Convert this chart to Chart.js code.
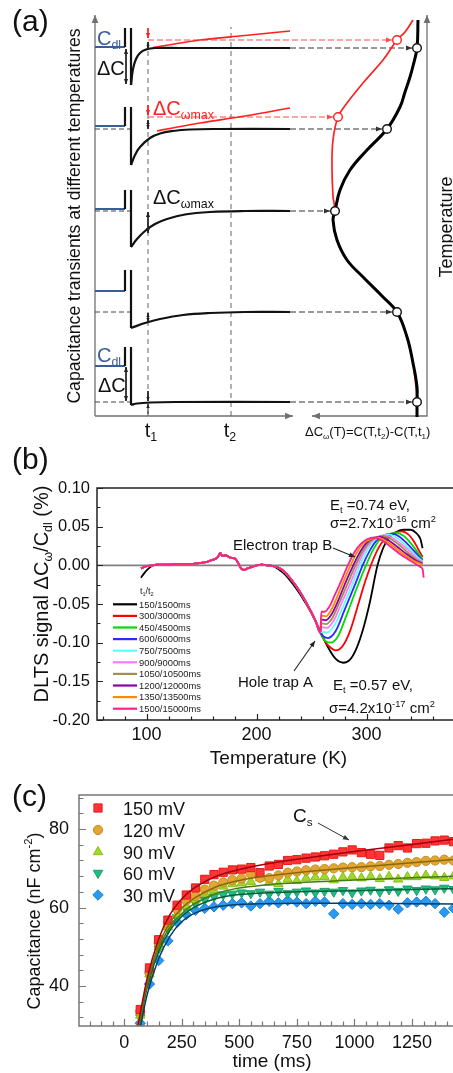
<!DOCTYPE html>
<html>
<head>
<meta charset="utf-8">
<title>DLTS figure</title>
<script src="https://cdn.jsdelivr.net/npm/chart.js@4.4.1/dist/chart.umd.min.js"></script>
<style>
  html, body { margin: 0; padding: 0; background: #fff; overflow: hidden; }
  .panel { position: absolute; left: 0; }
</style>
</head>
<body>
<div class="panel" style="top:0;width:453px;height:445px"><canvas id="panelA"></canvas></div>
<div class="panel" style="top:445px;width:480px;height:325px"><canvas id="panelB"></canvas></div>
<div class="panel" style="top:770px;width:480px;height:303px"><canvas id="panelC"></canvas></div>
<script>
const FONT = "'Liberation Sans', Arial, Helvetica, sans-serif";
const BLUE = '#3a5d9a';
const RED = '#ff2020';

// ---- (a) schematic: x = time (a.u.), y = temperature (a.u.) ----
const cdlLevel = [369, 290, 207, 125, 50];
const pulseTop = [388, 309, 226, 146, 69];
const steadyLevel = [368, 287, 205, 104, 14];
const transients = [
  [[36,331],[38,347],[41,357],[45,363],[51,366.5],[60,368],[85,368],[195,368]],
  [[36,251],[40,261],[45,269],[55,278],[65,282.5],[78,285],[95,286.5],[120,287],[195,287]],
  [[36,169],[42,177],[50,185],[60,192],[72,197],[90,201.5],[115,204],[150,205],[195,205]],
  [[36,88],[50,93],[65,97],[88,101],[115,103],[150,104],[195,104]],
  [[36,11],[42,12.5],[55,13.5],[80,14],[195,14]]
];
const redTransients = [
  [[58,368.5],[70,370.5],[105,376],[150,380.5],[195,385]],
  [[62,285],[80,288.5],[105,293],[150,300],[195,308]]
];
const signalBlack = [[323,396],[322,368],[318,350],[315,339],[310,324],[305,309],[292,287],[272,266],[255,246],[245,226],[240,205],[238,196],[242,176],[252,156],[268,139],[288,119],[302,104],[312,79],[318,53],[322,29],[322,14],[322,-1]];
const signalRed = [[318,396],[310,384],[302,376],[288,356],[268,333],[252,313],[243,299],[238,276],[237,249],[238,220],[240,205],[238,196],[242,176],[252,156],[268,139],[288,119],[302,104],[312,79],[318,53],[321,29],[322,14]];
const readBlack = [[322,368],[292,287],[240,205],[302,104],[322,14]];
const readRed = [[302,376],[243,299]];
const gateTimes = [53, 136];
const transientEnd = 195;

// ---- (b) DLTS spectra ----
const dltsLabels = ['150/1500ms','300/3000ms','450/4500ms','600/6000ms','750/7500ms','900/9000ms','1050/10500ms','1200/12000ms','1350/13500ms','1500/15000ms'];
const dltsColors = ['#000000','#ff0000','#00dd00','#2a2aff','#5cffff','#ff7aff','#a09050','#8a00aa','#ff8a00','#ff1f8f'];
const baseT = [106,110,120,130,140,148,154,158,162,165,167,169,172,176,180,183,186,189,192,196,200,205,210,215];
const baseV = [0.000,0.001,0.001,0.002,0.002,0.003,0.004,0.006,0.008,0.011,0.016,0.012,0.013,0.010,0.009,0.004,-0.004,-0.006,-0.004,-0.002,0.000,0.001,0.000,-0.001];
const headColor = [[95,-0.004],[100,-0.001]];
const headBlack = [[95,-0.016],[98,-0.010],[102,-0.004]];
const descent = [[220,-0.003],[226,-0.009],[232,-0.019],[238,-0.031],[244,-0.045],[250,-0.061],[254,-0.073],[258,-0.087]];
const tailBlack = [[220,-0.005],[226,-0.012],[232,-0.022],[240,-0.038],[250,-0.062],[258,-0.085],[265,-0.106],[272,-0.121],[279,-0.126],[285,-0.122],[291,-0.107],[297,-0.082],[303,-0.048],[310,0],[315,0.022],[320,0.035],[327,0.043],[334,0.046],[340,0.046],[345,0.042],[349,0.034],[351,0.022]];
const tailRed = [[262,-0.098],[267,-0.106],[272,-0.110],[278,-0.105],[285,-0.085],[293,-0.048],[299,-0.020],[304,0],[310,0.020],[317,0.035],[325,0.042],[332,0.044],[338,0.040],[343,0.031],[347,0.021],[351,0.011]];
const tailGreen = [[262,-0.097],[267,-0.100],[274,-0.092],[282,-0.064],[291,-0.030],[299.5,0],[306,0.020],[312,0.033],[320,0.040],[327,0.042],[334,0.038],[340,0.029],[345,0.020],[349,0.012],[351,0.008]];
const tailBlue = [[261,-0.092],[265,-0.094],[272,-0.085],[280,-0.058],[289,-0.027],[296.5,0],[303,0.019],[309,0.032],[316,0.039],[323,0.041],[330,0.037],[337,0.028],[343,0.019],[348,0.011],[351,0.006]];
const tailCyan = [[259,-0.086],[264,-0.087],[271,-0.077],[279,-0.052],[287,-0.025],[294,0],[300,0.018],[306,0.031],[313,0.038],[320,0.040],[327,0.036],[334,0.028],[341,0.018],[347,0.010],[351,0.005]];
const tailMagenta = [[259,-0.080],[264,-0.081],[270,-0.072],[277,-0.050],[285,-0.024],[292,0],[298,0.018],[304,0.030],[311,0.037],[317,0.039],[324,0.035],[332,0.027],[340,0.017],[346,0.009],[351,0.004]];
const tailOlive = [[259,-0.075],[263,-0.076],[269,-0.068],[276,-0.046],[283,-0.023],[290,0],[296,0.017],[302,0.029],[309,0.036],[315,0.038],[322,0.034],[330,0.026],[338,0.016],[345,0.008],[351,0.003]];
const tailPurple = [[259,-0.070],[263,-0.071],[268,-0.064],[275,-0.043],[281,-0.022],[288,0],[294,0.017],[300,0.029],[306,0.035],[312,0.037],[319,0.033],[327,0.025],[336,0.015],[344,0.007],[351,0.002]];
const tailOrange = [[259,-0.065],[263,-0.066],[267,-0.060],[273,-0.042],[279,-0.021],[285.5,0],[291,0.016],[297,0.028],[304,0.034],[310,0.036],[317,0.032],[325,0.024],[334,0.014],[343,0.006],[351,0.001]];
const tailPink = [[259,-0.060],[262,-0.060],[266,-0.054],[271,-0.039],[277,-0.020],[283,0],[289,0.017],[295,0.028],[301,0.034],[307,0.036],[314,0.032],[322,0.024],[331,0.014],[341,0.005],[349,-0.002],[351,-0.005],[352,-0.016]];
const tailsColor = [tailRed, tailGreen, tailBlue, tailCyan, tailMagenta, tailOlive, tailPurple, tailOrange, tailPink];

// ---- (c) capacitance transients ----
const voltLabels = ['150 mV','120 mV','90 mV','60 mV','30 mV'];
const timeMs = [70,110,150,190,230,270,310,350,390,430,470,510,550,590,630,670,710,750,790,830,870,910,950,990,1030,1070,1110,1150,1190,1230,1270,1310,1350,1390,1430];
const cap150 = [34.0,44.6,51.8,56.8,60.6,63.2,65.0,67.2,68.4,69.0,69.6,69.8,70.2,68.9,70.6,71.0,72.0,72.2,72.6,72.9,73.2,73.6,74.2,74.7,74.0,73.6,73.3,75.2,75.8,75.2,76.3,76.4,77.0,77.2,76.8];
const cap120 = [33.5,43.5,51.0,56.0,59.6,61.8,62.9,64.6,65.6,66.4,67.0,67.4,68.6,67.6,67.5,68.2,68.9,69.2,69.5,69.7,69.8,70.0,70.2,70.3,70.3,70.5,70.6,70.9,71.1,71.4,71.6,71.9,72.0,72.2,72.0];
const cap90 = [32.5,43.0,50.0,55.0,58.3,60.4,62.0,63.6,64.5,65.4,66.0,66.2,66.6,67.5,66.4,66.0,67.2,66.8,67.5,67.7,67.8,67.0,67.7,67.9,67.5,67.9,67.3,67.9,67.2,67.8,67.8,68.2,68.0,67.6,68.0];
const cap60 = [32.0,42.5,49.5,54.5,57.5,59.5,61.0,62.0,62.8,63.3,63.5,63.8,63.6,64.0,63.5,64.2,63.6,64.0,64.3,63.8,64.2,64.0,64.4,63.8,64.3,64.5,64.0,64.6,64.2,64.8,64.4,64.8,64.6,65.0,64.7];
const cap30 = [30.5,40.5,46.5,51.5,56.3,58.2,59.3,59.8,60.2,60.6,61.0,61.2,60.4,61.0,61.6,61.2,61.8,61.4,61.0,61.6,61.4,58.4,61.0,60.8,61.0,60.8,61.0,60.6,59.6,61.2,61.4,61.6,61.0,58.8,59.8];
const fitT = [60,100,150,200,250,300,400,500,600,750,1000,1250,1480];
const fit150 = [30.0,42.0,52.0,58.3,62.2,64.8,68.0,69.7,70.9,72.3,74.3,76.1,77.8];
const fit120 = [29.0,40.8,50.5,56.2,59.8,62.2,65.3,66.9,67.9,68.9,70.2,71.4,72.5];
const fit90 = [28.5,40.3,49.6,55.1,58.5,60.8,63.6,65.0,65.7,66.3,67.0,67.6,68.1];
const fit60 = [28.0,39.6,48.8,54.3,57.7,59.9,62.3,63.3,63.7,64.0,64.3,64.6,64.9];
const fit30 = [26.5,37.8,47.0,52.8,56.4,58.4,60.2,60.8,61.0,61.1,61.1,61.0,60.9];

// ---------- helpers ----------
function zip(xs, ys) { return xs.map((v, i) => [v, ys[i]]); }
function isMult(v, m) { return Math.abs(v / m - Math.round(v / m)) < 1e-6; }

function parseRich(str) {
  const out = [];
  const re = /([_^])\{([^}]*)\}/g;
  let last = 0, m;
  while ((m = re.exec(str))) {
    if (m.index > last) out.push([str.slice(last, m.index), '']);
    out.push([m[2], m[1] === '_' ? 'sub' : 'sup']);
    last = re.lastIndex;
  }
  if (last < str.length) out.push([str.slice(last), '']);
  return out;
}

function rich(ctx, str, x, y, size, color, align) {
  const segs = parseRich(str).map(([t, k]) => {
    const s = k ? size * 0.62 : size;
    ctx.font = s + 'px ' + FONT;
    return { t: t, k: k, s: s, w: ctx.measureText(t).width };
  });
  const total = segs.reduce((a, g) => a + g.w, 0);
  let cx = align === 'center' ? x - total / 2 : (align === 'right' ? x - total : x);
  ctx.save();
  ctx.fillStyle = color;
  ctx.textAlign = 'left';
  ctx.textBaseline = 'alphabetic';
  segs.forEach(g => {
    ctx.font = g.s + 'px ' + FONT;
    const dy = g.k === 'sub' ? size * 0.22 : (g.k === 'sup' ? -size * 0.42 : 0);
    ctx.fillText(g.t, cx, y + dy);
    cx += g.w;
  });
  ctx.restore();
}

function rotated(ctx, str, x, y, size, color) {
  ctx.save();
  ctx.translate(x, y);
  ctx.rotate(-Math.PI / 2);
  rich(ctx, str, 0, 0, size, color, 'center');
  ctx.restore();
}

function arrowHead(ctx, from, to, color, size) {
  const ang = Math.atan2(to.y - from.y, to.x - from.x);
  const w = size * 0.42;
  ctx.save();
  ctx.fillStyle = color;
  ctx.beginPath();
  ctx.moveTo(to.x, to.y);
  ctx.lineTo(to.x - size * Math.cos(ang) + w * Math.sin(ang), to.y - size * Math.sin(ang) - w * Math.cos(ang));
  ctx.lineTo(to.x - size * Math.cos(ang) - w * Math.sin(ang), to.y - size * Math.sin(ang) + w * Math.cos(ang));
  ctx.closePath();
  ctx.fill();
  ctx.restore();
}

function arrowLine(ctx, x1, y1, x2, y2, color, width, size) {
  ctx.save();
  ctx.strokeStyle = color;
  ctx.lineWidth = width;
  ctx.beginPath();
  ctx.moveTo(x1, y1);
  ctx.lineTo(x2, y2);
  ctx.stroke();
  ctx.restore();
  arrowHead(ctx, { x: x1, y: y1 }, { x: x2, y: y2 }, color, size);
}

// draws arrow heads at ends of datasets flagged with `arrow`
const arrowsPlugin = {
  id: 'arrowHeads',
  afterDatasetsDraw(chart) {
    const ctx = chart.ctx;
    chart.data.datasets.forEach((ds, i) => {
      if (!ds.arrow) return;
      const pts = chart.getDatasetMeta(i).data;
      const n = pts.length;
      const size = ds.arrowSize || 7;
      if (ds.arrow !== 'start') arrowHead(ctx, pts[n - 2], pts[n - 1], ds.borderColor, size);
      if (ds.arrow !== 'end') arrowHead(ctx, pts[1], pts[0], ds.borderColor, size);
    });
  }
};

// inward tick marks, majors longer
function innerTicks(chart, xMajor, yMajor, color, majLen, minLen) {
  const { ctx, chartArea: a, scales } = chart;
  ctx.save();
  ctx.strokeStyle = color;
  ctx.lineWidth = 1.2;
  ctx.beginPath();
  scales.x.ticks.forEach(t => {
    const px = Math.round(scales.x.getPixelForValue(t.value)) + 0.5;
    const len = isMult(t.value, xMajor) ? majLen : minLen;
    ctx.moveTo(px, a.bottom);
    ctx.lineTo(px, a.bottom - len);
  });
  scales.y.ticks.forEach(t => {
    const py = Math.round(scales.y.getPixelForValue(t.value)) + 0.5;
    const len = isMult(t.value, yMajor) ? majLen : minLen;
    ctx.moveTo(a.left, py);
    ctx.lineTo(a.left + len, py);
  });
  ctx.stroke();
  ctx.restore();
}

const baseOptions = {
  animation: false,
  responsive: true,
  maintainAspectRatio: false,
  events: [],
  plugins: { legend: { display: false }, tooltip: { enabled: false } }
};

// ---------- panel (a) ----------
const dsA = [];
function lineA(points, color, width, extra) {
  dsA.push(Object.assign({
    data: points, borderColor: color, backgroundColor: color, borderWidth: width,
    showLine: true, pointRadius: 0, tension: 0, clip: false
  }, extra || {}));
}
const GRAY = '#707070';
lineA([[0, 0], [0, 401]], GRAY, 1.3, { arrow: 'end', arrowSize: 8 });
lineA([[0, 0], [198, 0]], GRAY, 1.3, { arrow: 'end', arrowSize: 8 });
lineA([[217, 0], [332, 0], [332, 401]], GRAY, 1.3, { arrow: 'both', arrowSize: 8 });
lineA([[gateTimes[0], 0], [gateTimes[0], 386]], '#666', 1, { borderDash: [5, 4] });
lineA([[gateTimes[1], 0], [gateTimes[1], 389]], '#666', 1, { borderDash: [5, 4] });
for (let k = 1; k < 5; k++) lineA([[0, steadyLevel[k]], [36, steadyLevel[k]]], '#444', 1, { borderDash: [5, 3] });
const readX = [317, 287, 235, 297, 317];
for (let k = 0; k < 5; k++) lineA([[transientEnd, steadyLevel[k]], [readX[k], steadyLevel[k]]], '#333', 1, { borderDash: [6, 3], arrow: 'end', arrowSize: 6 });
lineA([[gateTimes[0], readRed[0][1]], [readRed[0][0] - 5, readRed[0][1]]], '#ff4848', 1, { borderDash: [6, 3], arrow: 'end', arrowSize: 6 });
lineA([[gateTimes[0], readRed[1][1]], [readRed[1][0] - 5, readRed[1][1]]], '#ff4848', 1, { borderDash: [6, 3], arrow: 'end', arrowSize: 6 });
redTransients.forEach(r => lineA(r, RED, 1.7, { tension: 0.4 }));
for (let k = 0; k < 5; k++) {
  lineA([[0, cdlLevel[k]], [30, cdlLevel[k]]], BLUE, 2);
  lineA([[30, cdlLevel[k]], [30, pulseTop[k]]], '#111', 2.2);
  lineA([[36, pulseTop[k]], transients[k][0]], '#111', 2.2);
  lineA(transients[k], '#111', 2.2, { tension: 0.4 });
}
// small gauge arrows at t1 and the ΔC arrows
lineA([[53, 388], [53, 378]], RED, 1, { arrow: 'end', arrowSize: 5 });
lineA([[53, 311], [53, 301]], RED, 1, { arrow: 'end', arrowSize: 5 });
lineA([[53, 374], [53, 367]], '#222', 1, { arrow: 'both', arrowSize: 3.5 });
lineA([[53, 296], [53, 287]], '#222', 1, { arrow: 'both', arrowSize: 4 });
lineA([[53, 204], [53, 183]], '#222', 1, { arrow: 'both', arrowSize: 5 });
lineA([[53, 103], [53, 94]], '#222', 1, { arrow: 'both', arrowSize: 4 });
lineA([[53, 25], [53, 15]], '#222', 1, { arrow: 'end', arrowSize: 4 });
lineA([[53, 2], [53, 12]], '#222', 1, { arrow: 'end', arrowSize: 4 });
lineA([[31, 367], [31, 332]], '#222', 1, { arrow: 'both', arrowSize: 5 });
lineA([[31, 49], [31, 15]], '#222', 1, { arrow: 'both', arrowSize: 5 });
lineA(signalRed, RED, 1.7, { tension: 0.4 });
lineA(signalBlack, '#000', 3, { tension: 0.4 });
dsA.push({ data: readRed, showLine: false, pointRadius: 4.3, pointBorderWidth: 1.4, pointBackgroundColor: '#fff', pointBorderColor: RED, clip: false });
dsA.push({ data: readBlack, showLine: false, pointRadius: 4.3, pointBorderWidth: 1.4, pointBackgroundColor: '#fff', pointBorderColor: '#111', clip: false });
dsA.forEach((d, i) => { d.order = dsA.length - i; });

new Chart(document.getElementById('panelA'), {
  type: 'scatter',
  data: { datasets: dsA },
  options: Object.assign({}, baseOptions, {
    layout: { padding: { left: 95, right: 25, top: 16, bottom: 29 } },
    scales: {
      x: { type: 'linear', display: false, min: 0, max: 333 },
      y: { type: 'linear', display: false, min: 0, max: 400 }
    }
  }),
  plugins: [arrowsPlugin, {
    id: 'textA',
    afterDraw(chart) {
      const ctx = chart.ctx;
      rich(ctx, '(a)', 12, 31, 30, '#111');
      rich(ctx, 'C_{dl}', 97, 45, 20, BLUE);
      rich(ctx, 'ΔC', 97, 75, 20, '#111');
      rich(ctx, 'ΔC_{ωmax}', 153, 115, 20, RED);
      rich(ctx, 'ΔC_{ωmax}', 153, 204, 20, '#111');
      rich(ctx, 'C_{dl}', 97, 362, 20, BLUE);
      rich(ctx, 'ΔC', 98, 392, 20, '#111');
      rich(ctx, 't_{1}', 151, 437, 20, '#111', 'center');
      rich(ctx, 't_{2}', 230, 437, 20, '#111', 'center');
      rich(ctx, 'ΔC_{ω}(T)=C(T,t_{2})-C(T,t_{1})', 305, 436, 13, '#111');
      rotated(ctx, 'Capacitance transients at different temperatures', 80, 216, 17.6, '#111');
      rotated(ctx, 'Temperature', 452, 227, 18, '#111');
    }
  }]
});

// ---------- panel (b) ----------
const dsB = dltsLabels.map((label, i) => {
  const pts = i === 0
    ? headBlack.concat(zip(baseT, baseV), tailBlack)
    : headColor.concat(zip(baseT, baseV), descent, tailsColor[i - 1]);
  return {
    label: label, data: pts, borderColor: dltsColors[i], borderWidth: 1.8,
    showLine: true, pointRadius: 0, cubicInterpolationMode: 'monotone', order: dltsLabels.length - i
  };
});

new Chart(document.getElementById('panelB'), {
  type: 'scatter',
  data: { datasets: dsB },
  options: Object.assign({}, baseOptions, {
    layout: { padding: { left: 0, right: 20, top: 43, bottom: 0 } },
    scales: {
      x: {
        type: 'linear', min: 55, max: 385,
        afterFit: s => { s.height = 50; },
        grid: { display: false, drawTicks: false }, border: { display: false },
        ticks: {
          stepSize: 20, includeBounds: false, autoSkip: false, maxRotation: 0, padding: 4,
          color: '#111', font: { family: FONT, size: 18 },
          callback: v => (v % 100 === 0 ? String(v) : '')
        },
        title: { display: true, text: 'Temperature (K)', color: '#111', padding: 0, font: { family: FONT, size: 19 } }
      },
      y: {
        type: 'linear', min: -0.2, max: 0.1,
        afterFit: s => { s.width = 97; },
        grid: { display: false, drawTicks: false }, border: { display: false },
        ticks: {
          stepSize: 0.025, includeBounds: false, autoSkip: false, padding: 7,
          color: '#111', font: { family: FONT, size: 16.5 },
          callback: v => (isMult(v, 0.05) ? v.toFixed(2) : '')
        }
      }
    }
  }),
  plugins: [{
    id: 'decorB',
    beforeDatasetsDraw(chart) {
      const { ctx, chartArea: a, scales } = chart;
      const y0 = scales.y.getPixelForValue(0);
      ctx.save();
      ctx.strokeStyle = '#808080';
      ctx.lineWidth = 1.6;
      ctx.beginPath();
      ctx.moveTo(a.left, y0);
      ctx.lineTo(a.right, y0);
      ctx.stroke();
      ctx.restore();
    },
    afterDraw(chart) {
      const { ctx, chartArea: a } = chart;
      ctx.save();
      ctx.strokeStyle = '#222';
      ctx.lineWidth = 1.5;
      ctx.strokeRect(a.left, a.top, a.right - a.left, a.bottom - a.top);
      ctx.restore();
      innerTicks(chart, 100, 0.05, '#222', 6, 3.5);

      // legend
      rich(ctx, 't_{1}/t_{2}', 140, 149, 9, '#222');
      dltsLabels.forEach((lab, i) => {
        const y = 159.3 + 11.6 * i;
        ctx.save();
        ctx.strokeStyle = dltsColors[i];
        ctx.lineWidth = 2.2;
        ctx.beginPath();
        ctx.moveTo(113, y);
        ctx.lineTo(137, y);
        ctx.stroke();
        ctx.restore();
        rich(ctx, lab, 139, y + 3.3, 9.4, '#222');
      });

      rich(ctx, '(b)', 12, 24, 30, '#111');
      rich(ctx, 'E_{t} =0.74 eV,', 330, 65, 15, '#111');
      rich(ctx, 'σ=2.7x10^{-16} cm^{2}', 330, 83, 15, '#111');
      rich(ctx, 'Electron trap B', 233, 105, 15, '#111');
      arrowLine(ctx, 333, 103, 355, 112, '#222', 1.1, 6);
      rich(ctx, 'Hole trap A', 238, 242, 15, '#111');
      arrowLine(ctx, 294, 226, 315, 196, '#222', 1.1, 6);
      rich(ctx, 'E_{t} =0.57 eV,', 333, 245, 15, '#111');
      rich(ctx, 'σ=4.2x10^{-17} cm^{2}', 329, 268, 15, '#111');
      rotated(ctx, 'DLTS signal ΔC_{ω}/C_{dl} (%)', 48, 149, 20, '#111');
    }
  }]
});

// ---------- panel (c) ----------
const markerStyles = [
  { pointStyle: 'rect', radius: 5.8, rotation: 0, fill: '#ff3535', edge: '#e81818' },
  { pointStyle: 'circle', radius: 4.6, rotation: 0, fill: '#e2a536', edge: '#c48e1c' },
  { pointStyle: 'triangle', radius: 5.4, rotation: 0, fill: '#a2d82c', edge: '#86bf12' },
  { pointStyle: 'triangle', radius: 5.4, rotation: 180, fill: '#22bb80', edge: '#12a068' },
  { pointStyle: 'rectRot', radius: 5.2, rotation: 0, fill: '#2a9af0', edge: '#1282d8' }
];
const capSeries = [cap150, cap120, cap90, cap60, cap30];
const fitSeries = [fit150, fit120, fit90, fit60, fit30];
const fitColors = ['#a00010', '#8a6a00', '#4a7a10', '#005f3a', '#0a3a66'];

const dsC = [];
capSeries.forEach((vals, i) => {
  const m = markerStyles[i];
  dsC.push({
    label: voltLabels[i], data: zip(timeMs, vals), showLine: false,
    pointStyle: m.pointStyle, pointRadius: m.radius, pointRotation: m.rotation,
    pointBackgroundColor: m.fill, pointBorderColor: m.edge, pointBorderWidth: 1,
    order: 20 + i
  });
});
fitSeries.forEach((vals, i) => {
  dsC.push({
    data: zip(fitT, vals), showLine: true, pointRadius: 0, borderColor: fitColors[i],
    borderWidth: 1.5, cubicInterpolationMode: 'monotone', order: 5 + i
  });
});

new Chart(document.getElementById('panelC'), {
  type: 'scatter',
  data: { datasets: dsC },
  options: Object.assign({}, baseOptions, {
    layout: { padding: { left: 0, right: 15, top: 25, bottom: 0 } },
    scales: {
      x: {
        type: 'linear', min: -196, max: 1480,
        afterFit: s => { s.height = 47; },
        grid: { display: false, drawTicks: false }, border: { display: false },
        ticks: {
          stepSize: 50, includeBounds: false, autoSkip: false, maxRotation: 0, padding: 6,
          color: '#111', font: { family: FONT, size: 18 },
          callback: v => (v % 250 === 0 ? String(v) : '')
        },
        title: { display: true, text: 'time (ms)', color: '#111', padding: 0, font: { family: FONT, size: 19 } }
      },
      y: {
        type: 'linear', min: 29.8, max: 88.7,
        afterFit: s => { s.width = 79; },
        grid: { display: false, drawTicks: false }, border: { display: false },
        ticks: {
          stepSize: 4, includeBounds: false, autoSkip: false, padding: 10,
          color: '#111', font: { family: FONT, size: 18 },
          callback: v => (v % 20 === 0 ? String(v) : '')
        }
      }
    }
  }),
  plugins: [{
    id: 'decorC',
    afterDraw(chart) {
      const { ctx, chartArea: a } = chart;
      ctx.save();
      ctx.strokeStyle = '#777';
      ctx.lineWidth = 1.5;
      ctx.strokeRect(a.left, a.top, a.right - a.left, a.bottom - a.top);
      ctx.restore();
      innerTicks(chart, 250, 20, '#777', 7, 4.5);

      const legendY = [38, 60, 82, 103, 125];
      markerStyles.forEach((m, i) => {
        ctx.save();
        ctx.fillStyle = m.fill;
        ctx.strokeStyle = m.edge;
        ctx.lineWidth = 1;
        Chart.helpers.drawPoint(ctx, { pointStyle: m.pointStyle, rotation: m.rotation, radius: m.radius, borderWidth: 1 }, 98, legendY[i]);
        ctx.restore();
        rich(ctx, voltLabels[i], 123, legendY[i] + 6.5, 18, '#111');
      });

      rich(ctx, '(c)', 12, 36, 30, '#111');
      rich(ctx, 'C_{s}', 293, 52, 19, '#111');
      arrowLine(ctx, 318, 53, 349, 70, '#333', 1, 6);
      rotated(ctx, 'Capacitance (nF cm^{-2})', 40, 151, 18, '#111');
    }
  }]
});
</script>
</body>
</html>
